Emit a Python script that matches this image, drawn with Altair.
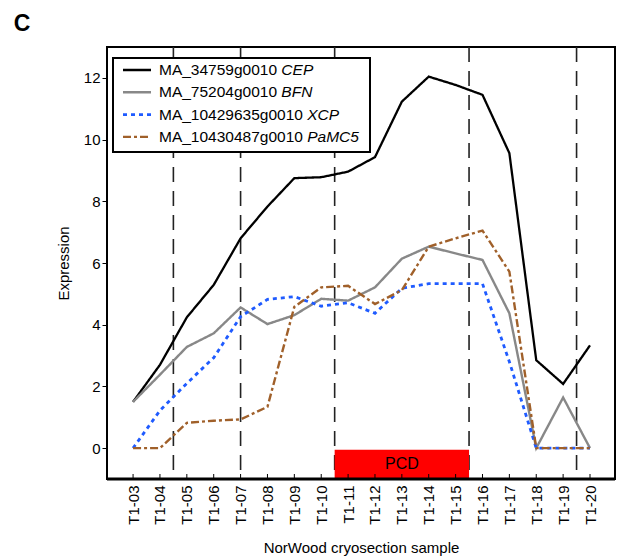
import json
import altair as alt
import pandas as pd

# ---------------- data ----------------
samples = ["T1-03", "T1-04", "T1-05", "T1-06", "T1-07", "T1-08", "T1-09", "T1-10",
           "T1-11", "T1-12", "T1-13", "T1-14", "T1-15", "T1-16", "T1-17", "T1-18",
           "T1-19", "T1-20"]
cep = [1.50, 2.70, 4.24, 5.29, 6.80, 7.83, 8.75, 8.78, 8.96, 9.43, 11.23, 12.04,
       11.77, 11.45, 9.56, 2.85, 2.08, 3.33]
bfn = [1.50, 2.38, 3.28, 3.72, 4.56, 4.02, 4.31, 4.84, 4.78, 5.21, 6.14, 6.53,
       6.31, 6.10, 4.37, 0.0, 1.64, 0.0]
xcp = [0.0, 1.22, 2.10, 2.93, 4.26, 4.82, 4.91, 4.60, 4.71, 4.37, 5.18, 5.33,
       5.33, 5.33, 2.80, 0.0, 0.0, 0.0]
pamc5 = [0.0, 0.0, 0.82, 0.89, 0.93, 1.34, 4.58, 5.21, 5.26, 4.67, 5.12, 6.53,
         6.80, 7.05, 5.72, 0.0, 0.0, 0.0]

series_ids = ["MA_34759g0010", "MA_75204g0010", "MA_10429635g0010", "MA_10430487g0010"]
series_genes = ["CEP", "BFN", "XCP", "PaMC5"]
series_values = [cep, bfn, xcp, pamc5]
series_colors = ["#000000", "#888888", "#1f5bff", "#a0602a"]
series_dash = [[1, 0], [1, 0], [4, 4], [8, 3, 3, 3]]
series_width = [2.3, 2.4, 2.8, 2.4]

boundaries = [1.5, 4, 7.5, 12.5, 16.5]   # vertical dashed separators (sample index)
pcd_start, pcd_end = 7.5, 12.5
pcd_label = "PCD"
y_ticks = [0, 2, 4, 6, 8, 10, 12]

# ---------------- layout ----------------
W, H = 508, 432
FONT = "Liberation Sans"
xs = alt.Scale(domain=[-0.97, 17.93], nice=False, zero=False)
ys = alt.Scale(domain=[-1, 13], nice=False, zero=False)

label_expr = json.dumps(samples) + "[datum.value]"

x_axis = alt.Axis(values=list(range(len(samples))), labelExpr=label_expr, labelAngle=-90,
                  labelFontSize=15, labelColor="black", labelPadding=6, ticks=False,
                  domain=False, grid=False, title="NorWood cryosection sample",
                  titleFontSize=15, titleFontWeight="normal", titleColor="black",
                  titlePadding=16, labelFont=FONT, titleFont=FONT)
y_axis = alt.Axis(values=y_ticks, labelFontSize=15, labelColor="black", labelPadding=2,
                  tickSize=5, tickColor="black", tickWidth=1, domain=False, grid=False,
                  title="Expression", titleFontSize=15, titleFontWeight="normal",
                  titleColor="black", titlePadding=12, labelFont=FONT, titleFont=FONT)


def X(f):
    return alt.X(f, scale=xs, axis=x_axis)


def Y(f):
    return alt.Y(f, scale=ys, axis=y_axis)


one = alt.Data(values=[{"a": 1}])

# vertical dashed separators
bdf = pd.DataFrame({"b": boundaries})
sep = alt.Chart(bdf).mark_rule(color="#222222", strokeWidth=1.6, strokeDash=[15, 9]).encode(
    x=X("b:Q"), y=alt.value(0), y2=alt.value(H))

# PCD box
pdf = pd.DataFrame({"s": [pcd_start], "e": [pcd_end], "lo": [-1.0], "hi": [-0.05],
                    "mid": [(pcd_start + pcd_end) / 2], "ym": [-0.5], "lab": [pcd_label]})
pcd_rect = alt.Chart(pdf).mark_rect(color="#ff0000").encode(
    x=X("s:Q"), x2="e:Q", y=Y("lo:Q"), y2="hi:Q")
pcd_text = alt.Chart(pdf).mark_text(fontSize=16, font=FONT, color="black").encode(
    x=X("mid:Q"), y=Y("ym:Q"), text="lab:N")

# series lines
line_layers = []
for k in range(len(series_ids)):
    df = pd.DataFrame({"i": list(range(len(samples))), "v": series_values[k]})
    line_layers.append(
        alt.Chart(df).mark_line(color=series_colors[k], strokeWidth=series_width[k],
                                strokeDash=series_dash[k], strokeJoin="miter").encode(
            x=X("i:Q"), y=Y("v:Q")))

# inward x ticks
tdf = pd.DataFrame({"i": list(range(len(samples)))})
xticks = alt.Chart(tdf).mark_rule(color="black", strokeWidth=1).encode(
    x=X("i:Q"), y=alt.value(H - 5), y2=alt.value(H))

# thicker bottom frame edge
bottom_edge = alt.Chart(one).mark_rule(color="black", strokeWidth=3).encode(
    x=alt.value(0), x2=alt.value(W), y=alt.value(H))

# legend (manual, to allow italic gene names)
AW = {"M": 0.833, "A": 0.667, "_": 0.556, "g": 0.556, " ": 0.278}
LFS = 15.5


def text_w(s):
    return sum(AW.get(c, 0.556) for c in s) * LFS


row0, rowstep = 23, 22.3
leg_x0 = 52
leg_box = alt.Chart(one).mark_rect(fill="white", stroke="black", strokeWidth=2).encode(
    x=alt.value(6), x2=alt.value(263), y=alt.value(11), y2=alt.value(105))
leg_layers = []
for k in range(len(series_ids)):
    ly = row0 + rowstep * k
    rowdata = pd.DataFrame({"sid": [series_ids[k]], "gene": [series_genes[k]]})
    leg_layers.append(
        alt.Chart(rowdata).mark_rule(color=series_colors[k], strokeWidth=series_width[k],
                                     strokeDash=series_dash[k]).encode(
            x=alt.value(16), x2=alt.value(44), y=alt.value(ly)))
    leg_layers.append(
        alt.Chart(rowdata).mark_text(fontSize=LFS, font=FONT, align="left",
                                     baseline="middle", color="black").encode(
            x=alt.value(leg_x0), y=alt.value(ly), text="sid:N"))
    leg_layers.append(
        alt.Chart(rowdata).mark_text(fontSize=LFS, font=FONT, align="left",
                                     baseline="middle", fontStyle="italic",
                                     color="black").encode(
            x=alt.value(leg_x0 + text_w(series_ids[k] + " ")), y=alt.value(ly),
            text="gene:N"))

panel = alt.Chart(alt.Data(values=[{"t": "C"}])).mark_text(
    fontSize=23, fontWeight="bold", font=FONT, color="black", align="center",
    baseline="middle").encode(x=alt.value(-85), y=alt.value(-23), text="t:N")

chart = alt.layer(
    sep, pcd_rect, *line_layers, xticks, bottom_edge, pcd_text, leg_box, *leg_layers, panel
).properties(
    width=W, height=H,
    padding={"left": 107, "top": 47, "right": 2, "bottom": 81},
    autosize=alt.AutoSizeParams(type="none"),
    background="white",
).configure(font=FONT, view=alt.ViewConfig(stroke="black", strokeWidth=2))

chart.save("out.html", embed_options={"renderer": "svg", "actions": False})
